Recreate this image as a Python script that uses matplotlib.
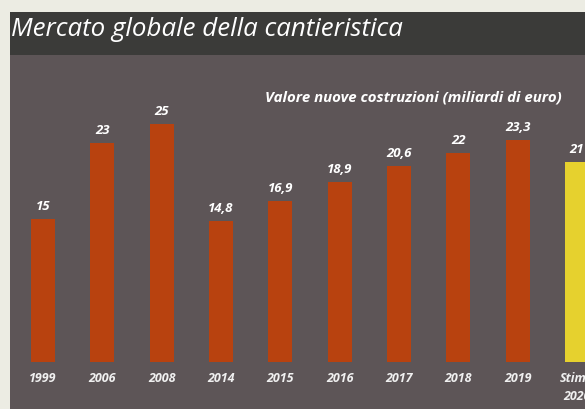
import matplotlib.pyplot as plt
from matplotlib.patches import Rectangle

# Dati
anni = ['1999', '2006', '2008', '2014', '2015', '2016', '2017', '2018', '2019', 'Stime\n2020']
valori = [15, 23, 25, 14.8, 16.9, 18.9, 20.6, 22, 23.3, 21]
etichette = ['15', '23', '25', '14,8', '16,9', '18,9', '20,6', '22', '23,3', '21']
colori = ['#b8420f'] * 9 + ['#e6d12e']

W, H = 585, 409
fig = plt.figure(figsize=(W / 100, H / 100), dpi=100)
fig.patch.set_facecolor('#ecece3')

# Sfondo: banda titolo scura e area grafico grigia
fig.patches.append(Rectangle((10 / W, 0), 1, (H - 55) / H, transform=fig.transFigure,
                             facecolor='#5d5557', edgecolor='none', zorder=-2))
fig.patches.append(Rectangle((10 / W, (H - 55) / H), 1, 43 / H, transform=fig.transFigure,
                             facecolor='#3b3b39', edgecolor='none', zorder=-2))

ax = fig.add_axes([0, 0, 1, 1])
ax.set_zorder(1)
ax.patch.set_alpha(0)
x = list(range(len(anni)))
ax.bar(x, valori, width=0.4, color=colori, zorder=2)

passo = 59.33
xmin = -43 / passo
ax.set_xlim(xmin, xmin + W / passo)
ppu = 9.52
ymin = -47 / ppu
ax.set_ylim(ymin, ymin + H / ppu)
ax.axis('off')

font = 'Open Sans'
for xi, v, lab in zip(x, valori, etichette):
    ax.text(xi, v + 0.6, lab, ha='center', va='bottom', color='white',
            fontsize=9.5, fontweight='bold', style='italic', family=font)

for xi, a in zip(x, anni):
    ax.text(xi, -1.1, a, ha='center', va='top', color='#f0f0f0',
            fontsize=9, fontweight='bold', style='italic', family=font,
            linespacing=1.45)

fig.text(11 / W, 1 - 30 / H, 'Mercato globale della cantieristica', ha='left', va='center',
         color='white', fontsize=18.6, style='italic', family=font)
fig.text(413 / W, 1 - 97 / H, 'Valore nuove costruzioni (miliardi di euro)', ha='center',
         va='center', color='white', fontsize=10.8, fontweight='bold', style='italic', family=font)

fig.savefig('out.png', dpi=100, facecolor=fig.get_facecolor())
